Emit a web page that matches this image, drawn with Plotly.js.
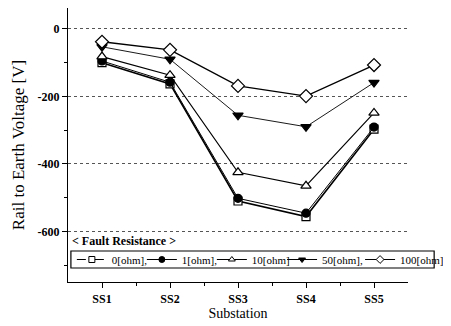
<!DOCTYPE html>
<html><head><meta charset="utf-8">
<script src="https://cdn.plot.ly/plotly-3.0.1.min.js"></script>
<style>body{margin:0;background:#fff}#c{width:451px;height:326px}</style>
</head><body><div id="c"></div>
<script>
const categories = ["SS1","SS2","SS3","SS4","SS5"];
const seriesNames = ["0[ohm],","1[ohm],","10[ohm],","50[ohm],","100[ohm]"];
const r0 = [-100,-163,-510,-556,-297];
const r1 = [-95,-158,-502,-546,-291];
const r10 = [-82,-137,-425,-465,-249];
const r50 = [-53,-90,-256,-290,-159];
const r100 = [-38,-62,-169,-199,-107];
const yTicks = [0,-200,-400,-600];

const xs = categories.map((c,i)=>i+1);
const styles = [
  {symbol:'square', fill:'#fff', w:1.6, size:8, lg:'legend', lw:25, dash:'dash'},
  {symbol:'circle', fill:'#000', w:1, size:8, lg:'legend', lw:25, dash:'solid'},
  {symbol:'triangle-up', fill:'#fff', w:1.2, size:9, lg:'legend', lw:33, dash:'solid'},
  {symbol:'triangle-down', fill:'#000', w:0.9, size:9, lg:'legend2', lw:33, dash:'solid'},
  {symbol:'diamond', fill:'#fff', w:1.4, size:10, lg:'legend2', lw:38, dash:'solid'}
];
const vals = [r0,r1,r10,r50,r100];
const traces = vals.map((v,k)=>({
  x: xs, y: v, name: seriesNames[k], type:'scatter', mode:'lines+markers', showlegend:false,
  line:{color:'#000', width:styles[k].w},
  marker:{symbol:styles[k].symbol, size:styles[k].size, color:styles[k].fill, line:{color:'#000', width:1.2}}
}));
// legend entries (no drawn points)
const legendTraces = vals.map((v,k)=>({
  x:[null], y:[null], name: seriesNames[k], type:'scatter', mode:'lines+markers',
  legend: styles[k].lg, legendwidth: styles[k].lw,
  line:{color:'#000', width:1, dash:styles[k].dash},
  marker:{symbol:styles[k].symbol, size:6, color:styles[k].fill, line:{color:'#000', width:1}}
}));

const px2x = p => (p-68)/351;
const px2y = p => (282-p)/274;
const legFont = {size:11, family:'"Liberation Serif", serif', color:'#000'};
const layout = {
  width:451, height:326,
  margin:{l:68, r:32, t:8, b:44},
  paper_bgcolor:'#fff', plot_bgcolor:'#fff',
  font:{family:'"Liberation Serif", "Times New Roman", serif', color:'#000'},
  showlegend:true,
  legend:{orientation:'h', x:px2x(72), y:px2y(245), xanchor:'left', yanchor:'top',
    borderwidth:0, bgcolor:'rgba(0,0,0,0)', font:legFont, itemwidth:30, entrywidthmode:'pixels'},
  legend2:{orientation:'h', x:px2x(289), y:px2y(245), xanchor:'left', yanchor:'top',
    borderwidth:0, bgcolor:'rgba(0,0,0,0)', font:legFont, itemwidth:30, entrywidthmode:'pixels'},
  shapes:[{type:'rect', xref:'paper', yref:'paper', x0:px2x(71), x1:px2x(446), y0:px2y(251), y1:px2y(268),
    line:{color:'#000', width:1.2}, fillcolor:'rgba(0,0,0,0)', layer:'above'}],
  xaxis:{range:[0.5,5.5], tickvals:xs, ticktext:categories, showgrid:false, zeroline:false,
    showline:true, linecolor:'#000', linewidth:1.2, ticks:'outside', ticklen:5, tickcolor:'#000',
    minor:{tickvals:[1.5,2.5,3.5,4.5], ticks:'outside', ticklen:3, tickcolor:'#000'},
    tickfont:{size:12, family:'"Liberation Serif", serif', weight:'bold'},
    title:{text:'Substation', font:{size:14}, standoff:2}},
  yaxis:{range:[-750,62], tickvals:yTicks, ticktext:yTicks.map(String), showgrid:true,
    gridcolor:'#555', griddash:'dot', gridwidth:1, zeroline:false,
    showline:true, linecolor:'#000', linewidth:1.2, ticks:'outside', ticklen:5, tickcolor:'#000',
    minor:{tickvals:[-100,-300,-500,-700], ticks:'outside', ticklen:3, tickcolor:'#000', showgrid:false},
    tickfont:{size:12, family:'"Liberation Serif", serif', weight:'bold'},
    title:{text:'Rail to Earth Voltage [V]', font:{size:17}, standoff:8}},
  annotations:[{text:'< Fault Resistance >', xref:'paper', yref:'paper', x:px2x(70), y:px2y(250),
    xanchor:'left', yanchor:'bottom', showarrow:false, font:{size:12, weight:'bold'}}]
};
Plotly.newPlot('c', traces.concat(legendTraces), layout, {displayModeBar:false, staticPlot:true});
</script></body></html>
